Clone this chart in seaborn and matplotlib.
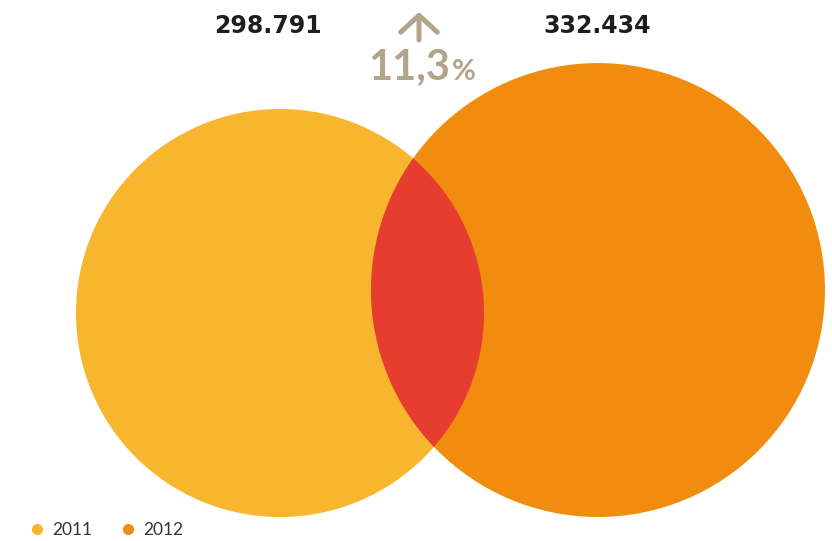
import matplotlib
matplotlib.use("Agg")
import matplotlib.pyplot as plt
import seaborn as sns
from matplotlib.patches import Circle, FancyArrowPatch
from matplotlib.lines import Line2D

# Data
years = ["2011", "2012"]
values = [298791, 332434]
labels = ["298.791", "332.434"]
change_label = "11,3"
colors = ["#F8B52E", "#F18C0E"]
overlap_color = "#E73C30"
accent = "#B3A58A"

sns.set_theme(style="white")
plt.rcParams["font.family"] = ["Lato", "DejaVu Sans"]

fig = plt.figure(figsize=(8.32, 5.41), dpi=100)
ax = fig.add_axes([0, 0, 1, 1])
ax.set_xlim(0, 832)
ax.set_ylim(541, 0)
ax.set_aspect("equal")
ax.axis("off")

# radius proportional to value, circles resting on a common baseline
scale = 204 / values[0]
radii = [v * scale for v in values]
base = 517
cx = [280, 598]

circles = []
for x, r, c in zip(cx, radii, colors):
    circ = Circle((x, base - r), r, facecolor=c, edgecolor="none", zorder=2)
    ax.add_patch(circ)
    circles.append(circ)

# overlap: second circle clipped to the first
ov = Circle((cx[1], base - radii[1]), radii[1], facecolor=overlap_color,
            edgecolor="none", zorder=3)
ax.add_patch(ov)
ov.set_clip_path(circles[0])

# value labels
for x, lab in zip([268, 597], labels):
    ax.text(x, 26, lab, ha="center", va="center", fontsize=17,
            fontweight="bold", color="#1E1E1E", family="DejaVu Sans")

# change indicator
arrow = FancyArrowPatch((419, 40), (419, 12), arrowstyle="->,head_length=0.55,head_width=0.6",
                        mutation_scale=22, color=accent, lw=3.6, zorder=4,
                        capstyle="round", joinstyle="round", shrinkA=0, shrinkB=0)
ax.add_patch(arrow)
ax.text(450, 80, change_label, ha="right", va="baseline", fontsize=30,
        fontweight="bold", color=accent)
ax.text(452, 80, "%", ha="left", va="baseline", fontsize=21,
        fontweight="bold", color=accent)

# legend
handles = [Line2D([0], [0], marker="o", linestyle="none", markersize=8,
                  markerfacecolor=c, markeredgecolor="none") for c in colors]
leg = ax.legend(handles, years, loc="center left", bbox_to_anchor=(0.034, 0.02),
                ncol=2, frameon=False, handletextpad=0.35, columnspacing=1.6,
                fontsize=12.5, handlelength=1.0, borderpad=0, borderaxespad=0)
for t in leg.get_texts():
    t.set_color("#333333")

fig.savefig("out.png", dpi=100)
